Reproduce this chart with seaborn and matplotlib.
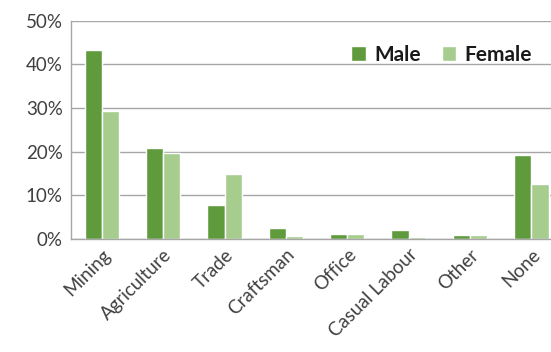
import pandas as pd
import matplotlib.pyplot as plt
import seaborn as sns
from matplotlib.ticker import PercentFormatter

categories = ["Mining", "Agriculture", "Trade", "Craftsman", "Office",
              "Casual Labour", "Other", "None"]
male = [43.2, 20.8, 7.8, 2.5, 1.1, 2.0, 0.9, 19.2]
female = [29.4, 19.8, 15.0, 0.7, 1.1, 0.4, 0.9, 12.6]

sns.set_theme(style="white")
plt.rcParams["font.family"] = ["Lato", "DejaVu Sans"]

df = pd.DataFrame({
    "category": categories * 2,
    "value": male + female,
    "sex": ["Male"] * len(categories) + ["Female"] * len(categories),
})

fig = plt.figure(figsize=(5.51, 3.52), dpi=100)
ax = fig.add_axes([0.129, 0.321, 0.871, 0.620])

sns.barplot(data=df, x="category", y="value", hue="sex",
            palette={"Male": "#5f9b3c", "Female": "#a7cd8e"},
            width=0.56, saturation=1, gap=0, ax=ax)

ax.set_ylim(0, 50)
ax.set_xlim(-0.5, 7.32)
ax.set_yticks(range(0, 51, 10))
ax.yaxis.set_major_formatter(PercentFormatter(decimals=0))
ax.yaxis.grid(True, color="#a6a6a6", linewidth=1)
ax.set_axisbelow(True)
ax.set_xlabel("")
ax.set_ylabel("")

for side in ["top", "right"]:
    ax.spines[side].set_visible(False)
for side in ["left", "bottom"]:
    ax.spines[side].set_color("#a6a6a6")
    ax.spines[side].set_linewidth(1)

ax.tick_params(axis="y", labelsize=13.5, colors="#404040", length=0, pad=6)
ax.tick_params(axis="x", labelsize=13.5, colors="#404040", length=0, pad=5)
for lbl in ax.get_xticklabels():
    lbl.set_rotation(45)
    lbl.set_ha("right")
    lbl.set_rotation_mode("anchor")

leg = ax.legend(loc="upper right", bbox_to_anchor=(1.0, 0.975), ncol=2,
                frameon=False, prop={"weight": "bold", "size": 15},
                handlelength=0.7, handleheight=0.7, handletextpad=0.4,
                columnspacing=1.0, labelcolor="#1a1a1a")

fig.savefig("out.png", dpi=100)
